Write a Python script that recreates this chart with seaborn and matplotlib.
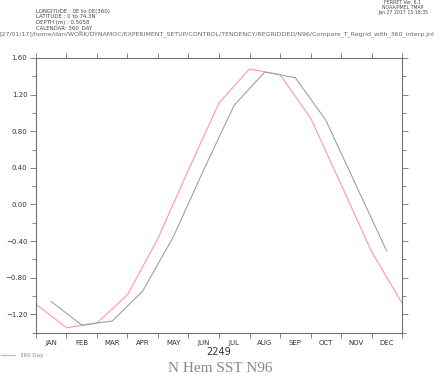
import numpy as np
import pandas as pd
import matplotlib
matplotlib.use("Agg")
import matplotlib.pyplot as plt
import seaborn as sns

# monthly SST anomaly, N Hem, year 2249
months = ["JAN", "FEB", "MAR", "APR", "MAY", "JUN",
          "JUL", "AUG", "SEP", "OCT", "NOV", "DEC"]

# 360 Day calendar series - points at month boundaries (0..12)
day360_x = list(range(13))
day360_y = [-1.09, -1.346, -1.295, -0.985, -0.37, 0.38, 1.11,
            1.48, 1.418, 0.945, 0.22, -0.515, -1.077]

# regridded series - points at month centres
regrid_x = [m + 0.5 for m in range(12)]
regrid_y = [-1.06, -1.317, -1.273, -0.945, -0.355, 0.38,
            1.085, 1.447, 1.385, 0.922, 0.205, -0.51]

header_left = ["LONGITUDE : 0E to 0E(360)", "LATITUDE : 0 to 74.3N",
               "DEPTH (m) : 0.5058", "CALENDAR: 360_DAY"]
header_right = ["FERRET Ver. 6.1", "NOAA/PMEL TMAP", "Jan 27 2017 15:18:35"]
path_txt = ("[27/01/17]/home/dan/WORK/DYNAMOC/EXPERIMENT_SETUP/CONTROL/TENDENCY/"
            "REGRIDDED/N96/Compare_T_Regrid_with_360_interp.jnl")

sns.set_style("ticks")
plt.rcParams["font.family"] = ["DejaVu Sans"]

RED = "#ff9a9a"
GREY = "#a0a0a0"
AX = "#707070"

fig = plt.figure(figsize=(4.41, 3.80), dpi=100)
ax = fig.add_axes([0.0816, 0.1245, 0.830, 0.7229])

df_red = pd.DataFrame({"x": day360_x, "y": day360_y})
df_grey = pd.DataFrame({"x": regrid_x, "y": regrid_y})
sns.lineplot(data=df_red, x="x", y="y", ax=ax, color=RED, linewidth=0.8, label="360 Day")
sns.lineplot(data=df_grey, x="x", y="y", ax=ax, color=GREY, linewidth=0.8)

ax.set_xlim(0, 12)
ax.set_ylim(-1.40, 1.60)

# x: ticks on month boundaries, labels at centres
ax.set_xticks(np.arange(13))
ax.set_xticklabels([])
ax.set_xticks(np.arange(12) + 0.5, minor=True)
ax.set_xticklabels(months, minor=True)
ax.tick_params(axis="x", which="major", direction="out", length=3.5, width=0.6,
               color=AX, top=True, bottom=True)
ax.tick_params(axis="x", which="minor", length=0, labelsize=5, labelcolor="#333333", pad=5)

yt = np.arange(-1.2, 1.61, 0.4)
ax.set_yticks(yt)
ax.set_yticklabels([f"{v:.2f}".replace("-", "\u2212") if abs(v) > 1e-9 else "0.00" for v in yt])
ax.set_yticks(np.arange(-1.4, 1.61, 0.4), minor=True)
ax.tick_params(axis="y", which="major", direction="out", length=4.2, width=0.6,
               color=AX, labelsize=5, labelcolor="#333333", pad=2, right=True)
ax.tick_params(axis="y", which="minor", direction="out", length=2.8, width=0.6,
               color=AX, right=True)

for s in ax.spines.values():
    s.set_color(AX)
    s.set_linewidth(0.8)

ax.set_xlabel("2249", fontsize=7, color="#333333", labelpad=1)
ax.set_ylabel("")

# legend sits below the plot on the left
leg = ax.legend(loc="upper left", bbox_to_anchor=(-0.003 - 0.0816 / 0.830, -0.065),
                frameon=False, fontsize=4, handlelength=2.5, handletextpad=0.9,
                borderaxespad=0)
for t in leg.get_texts():
    t.set_color("#888888")

fig.text(0.5, 0.013, "N Hem SST N96", ha="center", va="bottom",
         family="Liberation Serif", fontsize=11, color="#888888")

for i, line in enumerate(header_left):
    fig.text(0.0816, 1 - (11.5 + i * 5.4) / 380, line, fontsize=3.9,
             color="#444444", va="center")
for i, line in enumerate(header_right):
    fig.text(403 / 441, 1 - (2.5 + i * 4.8) / 380, line, fontsize=3.3,
             color="#444444", va="center", ha="center")
fig.text(0.0, 1 - 34.5 / 380, path_txt, fontsize=4.48, color="#666666", va="center")

plt.savefig("out.png", dpi=100)
